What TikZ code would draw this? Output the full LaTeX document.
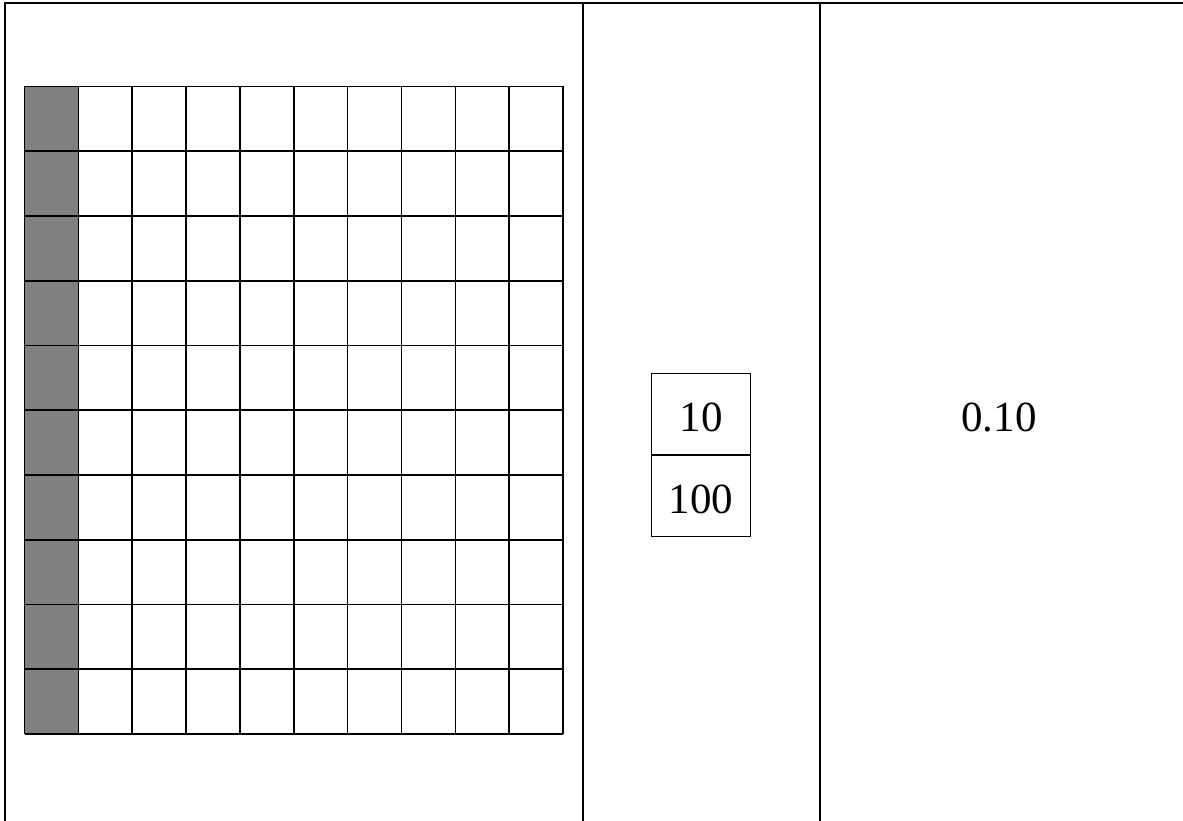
\documentclass[tikz,border=0pt]{standalone}
\usepackage{fontspec}
\setmainfont{Liberation Serif}
\usetikzlibrary{positioning}
\tikzset{
    rule/.style={line width=2pt},
    gridline/.style={line width=1.6pt},
    fracbox/.style={draw, line width=1pt, minimum width=98.7pt, minimum height=81pt, inner sep=0pt, text height=36pt, text depth=0pt, font=\fontsize{43}{50}\selectfont},
    numtext/.style={font=\fontsize{43}{50}\selectfont}
}
\begin{document}
\begin{tikzpicture}[x=1pt,y=-1pt]
    \useasboundingbox (0,0) rectangle (1183,821);

    % table frame
    \draw[rule] (5,821) -- (5,3) -- (1183,3);
    \draw[rule] (583,3) -- (583,821);
    \draw[rule] (820,3) -- (820,821);

    % hundred grid, first column shaded
    \fill[gray] (24.5,86.5) rectangle (78.35,734);
    \foreach \i in {0,...,10}
        \draw[gridline] (24.5+\i*53.85,86.5) -- ++(0,647.5);
    \foreach \j in {0,...,10}
        \draw[gridline] (24.5,86.5+\j*64.75) -- ++(538.5,0);

    % fraction
    \node[fracbox] (num) at (701,413.8) {10};
    \node[fracbox, below=0pt of num] (den) {100};

    % decimal
    \node[numtext] (dec) at (999,418) {0.10};
\end{tikzpicture}
\end{document}
